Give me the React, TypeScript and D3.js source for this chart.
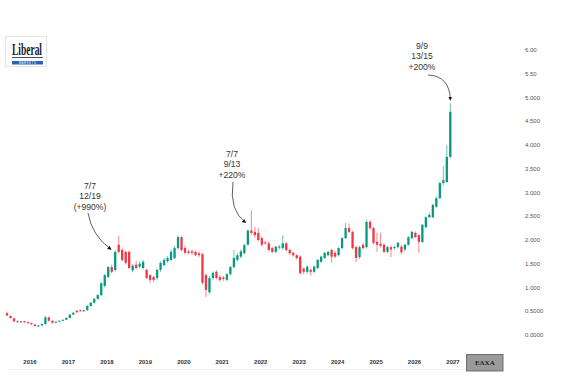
import React from "react";
import * as d3 from "d3";

const opens = [0.46,0.40,0.35,0.29,0.27,0.29,0.27,0.25,0.22,0.19,0.20,0.23,0.37,0.30,0.26,0.28,0.30,0.32,0.36,0.43,0.51,0.52,0.50,0.52,0.61,0.68,0.76,0.84,1.03,1.22,1.43,1.37,1.90,1.79,1.75,1.75,1.36,1.48,1.44,1.41,1.37,1.26,1.22,1.20,1.37,1.47,1.55,1.58,1.62,1.83,2.06,1.83,1.76,1.76,1.75,1.72,1.70,1.26,0.90,1.20,1.33,1.22,1.21,1.16,1.28,1.43,1.58,1.65,1.72,1.90,2.20,2.17,2.15,2.04,1.95,1.93,1.83,1.75,1.84,1.83,1.93,1.79,1.73,1.68,1.65,1.40,1.33,1.37,1.33,1.41,1.54,1.62,1.68,1.79,1.73,1.68,1.83,2.04,2.25,2.17,1.85,1.64,1.90,1.85,2.38,2.25,1.96,1.92,1.90,1.75,1.85,1.83,1.85,1.86,1.80,1.90,2.04,2.15,2.10,1.96,2.27,2.48,2.48,2.70,2.88,3.20,3.22,3.75];
const highs = [0.49,0.41,0.36,0.31,0.30,0.30,0.28,0.26,0.23,0.21,0.24,0.40,0.39,0.31,0.29,0.31,0.33,0.37,0.44,0.48,0.53,0.54,0.53,0.63,0.70,0.78,0.86,1.11,1.28,1.45,1.48,1.78,2.08,1.84,1.78,1.78,1.50,1.56,1.55,1.58,1.40,1.28,1.25,1.40,1.55,1.62,1.66,1.80,1.88,2.10,2.08,1.88,1.80,1.80,1.78,1.76,1.73,1.30,1.24,1.34,1.36,1.26,1.24,1.30,1.46,1.79,1.72,1.80,1.92,2.22,2.63,2.28,2.25,2.08,1.98,1.97,1.86,1.88,1.90,2.10,1.96,1.82,1.75,1.70,1.68,1.42,1.46,1.40,1.46,1.60,1.67,1.75,1.77,1.82,1.76,1.85,2.06,2.36,2.34,2.20,1.88,1.88,1.94,2.42,2.42,2.28,2.15,2.15,1.93,1.88,1.88,1.88,1.96,1.90,1.92,2.08,2.20,2.18,2.12,2.34,2.50,2.58,2.76,2.92,3.22,3.55,4.00,4.88];
const lows = [0.40,0.34,0.27,0.26,0.26,0.25,0.23,0.21,0.18,0.17,0.19,0.22,0.28,0.24,0.25,0.27,0.29,0.31,0.35,0.42,0.46,0.49,0.49,0.51,0.60,0.66,0.75,0.82,1.00,1.20,1.30,1.34,1.72,1.55,1.48,1.38,1.32,1.38,1.40,1.38,1.18,1.09,1.12,1.16,1.33,1.45,1.52,1.55,1.60,1.80,1.76,1.70,1.70,1.68,1.66,1.64,1.06,0.80,0.86,1.16,1.17,1.12,1.14,1.13,1.25,1.40,1.55,1.62,1.70,1.88,2.10,2.05,1.97,1.86,1.90,1.76,1.72,1.72,1.80,1.80,1.76,1.69,1.65,1.59,1.27,1.28,1.30,1.26,1.30,1.38,1.52,1.60,1.66,1.52,1.62,1.65,1.80,2.02,2.15,1.80,1.54,1.60,1.80,1.82,2.22,1.90,1.75,1.84,1.72,1.72,1.64,1.80,1.82,1.70,1.76,1.88,2.02,2.04,1.73,1.94,2.25,2.46,2.46,2.68,2.86,3.15,3.20,3.72];
const closes = [0.41,0.36,0.29,0.27,0.29,0.27,0.25,0.23,0.19,0.20,0.23,0.37,0.30,0.26,0.28,0.30,0.32,0.36,0.43,0.47,0.48,0.50,0.52,0.61,0.68,0.76,0.84,1.09,1.26,1.43,1.33,1.75,1.75,1.58,1.52,1.41,1.46,1.41,1.50,1.54,1.20,1.16,1.16,1.37,1.52,1.58,1.62,1.75,1.83,2.06,1.79,1.73,1.73,1.73,1.68,1.68,1.10,0.95,1.20,1.31,1.20,1.16,1.18,1.28,1.43,1.62,1.68,1.76,1.89,2.20,2.15,2.10,2.00,1.90,1.93,1.79,1.75,1.86,1.86,1.93,1.79,1.72,1.68,1.62,1.30,1.33,1.44,1.33,1.44,1.58,1.65,1.73,1.75,1.65,1.65,1.83,2.04,2.25,2.17,1.83,1.62,1.85,1.83,2.38,2.25,1.94,1.90,1.88,1.75,1.85,1.80,1.85,1.94,1.74,1.90,2.06,2.17,2.06,1.96,2.32,2.48,2.53,2.74,2.88,3.20,3.26,3.75,4.70];

const yTickValues = [0, 0.5, 1, 1.5, 2, 2.5, 3, 3.5, 4, 4.5, 5, 5.5, 6];
const yTickLabels = ["0.0000","0.5000","1.000","1.500","2.000","2.500","3.000","3.500","4.000","4.500","5.000","5.50","6.00"];
const years = [2016,2017,2018,2019,2020,2021,2022,2023,2024,2025,2026,2027];

const annotations = [
  { lines: ["7/7", "12/19", "(+990%)"], idx: 31, tx: 90, ty: 188.5 },
  { lines: ["7/7", "9/13", "+220%"], idx: 69, tx: 232, ty: 156.5 },
  { lines: ["9/9", "13/15", "+200%"], idx: 127, tx: 422, ty: 48.5 },
];

const UP = "#089981";
const DOWN = "#f23645";

export default function App() {
  const idx = d3.range(closes.length);
  const x = d3.scalePoint<number>().domain(idx).range([7, 450.3]);
  const y = d3.scaleLinear().domain([0, 6]).range([335, 50]);
  const xYear = d3.scaleLinear().domain([2016, 2027]).range([30, 453]);
  const bw = 2.3;

  const a1 = annotations[0], a2 = annotations[1], a3 = annotations[2];
  const p1 = d3.path();
  p1.moveTo(88, 213);
  p1.quadraticCurveTo(92, 236, x(a1.idx)! - 4, y(highs[a1.idx]) - 1);
  const p2 = d3.path();
  p2.moveTo(233, 182);
  p2.quadraticCurveTo(229, 211, x(a2.idx)! - 2, y(closes[a2.idx]) - 8);
  const p3 = d3.path();
  p3.moveTo(428, 75);
  p3.quadraticCurveTo(450, 76, x(a3.idx)!, y(highs[a3.idx]) - 3);

  return (
    <svg width={568} height={392} style={{ position: "absolute", left: 0, top: 0, background: "#fff" }} fontFamily="'Liberation Sans', Arial, sans-serif">
      <defs>
        <marker id="ah" viewBox="0 0 10 10" refX="9" refY="5" markerWidth="5" markerHeight="5" orient="auto">
          <path d="M0,0 L10,5 L0,10 z" fill="#111" />
        </marker>
      </defs>
      <rect x={0} y={0} width={568} height={392} fill="#fff" />

      {/* logo */}
      <g>
        <rect x={5.5} y={36.5} width={41} height={30} fill="#fff" stroke="#e4e4e4" />
        <text x={12} y={55} fontFamily="'Liberation Serif', 'DejaVu Serif', serif" fontSize={16} fontWeight="bold" fill="#1d1d2b" textLength={30} lengthAdjust="spacingAndGlyphs">Liberal</text>
        <line x1={12} x2={43} y1={57.5} y2={57.5} stroke="#1d1d2b" strokeWidth={0.8} />
        <rect x={12} y={61} width={31} height={3.5} fill="#2a63b4" />
        <text x={27.5} y={63.8} fontSize={2.8} fill="#fff" textAnchor="middle" letterSpacing={0.6}>MARKETS</text>
      </g>

      {/* candles */}
      {idx.map((i) => {
        const up = closes[i] >= opens[i];
        const c = up ? UP : DOWN;
        const cx = x(i)!;
        const top = y(Math.max(opens[i], closes[i]));
        const bot = y(Math.min(opens[i], closes[i]));
        return (
          <g key={i}>
            <line x1={cx} x2={cx} y1={y(highs[i])} y2={y(lows[i])} stroke={c} strokeWidth={1} opacity={0.6} />
            <rect x={cx - bw / 2} y={top} width={bw} height={Math.max(0.9, bot - top)} fill={c} />
          </g>
        );
      })}

      {/* y axis labels */}
      {yTickValues.map((v, k) => (
        <text key={v} x={525} y={y(v) + 2.2} fontSize={6} fill="#555">{yTickLabels[k]}</text>
      ))}

      {/* x axis */}
      <line x1={8} x2={466} y1={369.5} y2={369.5} stroke="#f2f2f2" />
      {years.map((yr) => (
        <text key={yr} x={xYear(yr)} y={363.5} fontSize={6} fontWeight="bold" fill="#333" textAnchor="middle">{yr}</text>
      ))}
      <rect x={466.5} y={354.5} width={36.5} height={16.5} fill="#9a9a9a" stroke="#6e6e6e" />
      <text x={484.8} y={365.3} fontSize={7} fontWeight="bold" fill="#222" textAnchor="middle" fontFamily="'Liberation Serif', serif">ΕΛΧΑ</text>

      {/* annotations */}
      {annotations.map((a, k) => (
        <text key={k} x={a.tx} fontSize={8.6} fill="#333" textAnchor="middle">
          {a.lines.map((l, j) => (
            <tspan key={j} x={a.tx} y={a.ty + j * 10.5}>{l}</tspan>
          ))}
        </text>
      ))}
      <path d={p1.toString()} fill="none" stroke="#333" strokeWidth={0.8} markerEnd="url(#ah)" />
      <path d={p2.toString()} fill="none" stroke="#333" strokeWidth={0.8} markerEnd="url(#ah)" />
      <path d={p3.toString()} fill="none" stroke="#333" strokeWidth={0.8} markerEnd="url(#ah)" />
    </svg>
  );
}
